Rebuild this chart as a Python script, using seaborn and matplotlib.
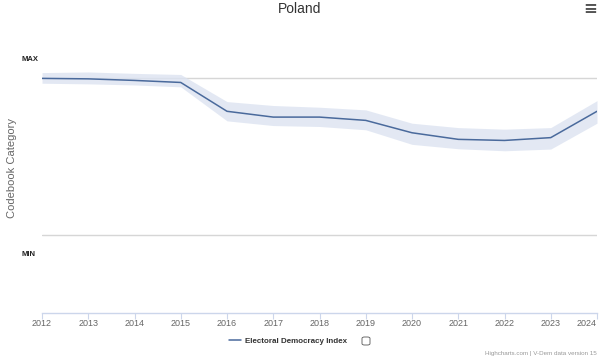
import matplotlib
matplotlib.use("Agg")
import matplotlib.pyplot as plt
import matplotlib.transforms as mtransforms
import seaborn as sns
import pandas as pd
from matplotlib.patches import FancyBboxPatch

years = [2012, 2013, 2014, 2015, 2016, 2017, 2018, 2019, 2020, 2021, 2022, 2023, 2024]
edi = [0.997, 0.994, 0.984, 0.971, 0.787, 0.750, 0.750, 0.729, 0.650, 0.608, 0.601, 0.619, 0.787]
edi_upper = [1.034, 1.038, 1.029, 1.022, 0.849, 0.824, 0.813, 0.796, 0.711, 0.683, 0.673, 0.683, 0.855]
edi_lower = [0.966, 0.962, 0.955, 0.943, 0.726, 0.696, 0.690, 0.669, 0.576, 0.548, 0.535, 0.546, 0.711]
series_name = "Electoral Democracy Index"
title = "Poland"
y_label = "Codebook Category"
y_marks = [1.0, 0.0]
y_mark_labels = ["MAX", "MIN"]
credits = "Highcharts.com | V-Dem data version 15"

df = pd.DataFrame({"year": years, "value": edi, "upper": edi_upper, "lower": edi_lower})

sns.set_theme(style="white")
plt.rcParams["font.family"] = ["Liberation Sans", "DejaVu Sans"]

LINE = "#4a6a9c"
BAND = "#dce3f1"

fig = plt.figure(figsize=(6.0, 3.58), dpi=100)
ax = fig.add_axes([0.07, 0.1257, 0.925, 0.788])

for v in y_marks:
    ax.axhline(v, color="#d6d6d6", lw=1.0, zorder=1)

ax.fill_between(df["year"], df["lower"], df["upper"], color=BAND, alpha=0.8, lw=0, zorder=2)
sns.lineplot(data=df, x="year", y="value", ax=ax, color=LINE, lw=1.1, label=series_name, zorder=3)

ax.set_xlim(2012, 2024)
ax.set_ylim(-0.5, 1.3)
ax.set_xticks(years)
ax.set_xticklabels([str(y) for y in years], fontsize=6.5, color="#666666")
ax.get_xticklabels()[-1].set_ha("right")
ax.set_yticks([])
ax.set_xlabel("")
ax.set_ylabel("")
for s in ["top", "right", "left"]:
    ax.spines[s].set_visible(False)
ax.spines["bottom"].set_color("#ccd6eb")
ax.spines["bottom"].set_linewidth(1.0)
ax.tick_params(axis="x", length=4, width=0.8, color="#ccd6eb", pad=0.5, bottom=True)

# category labels
trans = mtransforms.blended_transform_factory(fig.transFigure, ax.transData)
ax.text(22 / 600, 1.115, y_mark_labels[0], transform=trans, fontsize=5.5, fontweight="bold",
        color="#222222", ha="left", va="center")
ax.text(22 / 600, -0.127, y_mark_labels[1], transform=trans, fontsize=5.5, fontweight="bold",
        color="#222222", ha="left", va="center")

fig.text(12 / 600, 1 - 168 / 358, y_label, rotation=90, fontsize=8, color="#666666",
         ha="center", va="center")
fig.text(0.5, 1 - 9 / 358, title, fontsize=10, color="#333333", ha="center", va="center")
fig.text(590 / 600, 1 - 9 / 358, "\u2261", fontsize=12, color="#555555", ha="center",
         va="center", family=["DejaVu Sans"], fontweight="bold")
fig.text(597 / 600, 1 - 353 / 358, credits, fontsize=4.5, color="#999999", ha="right", va="center")

leg = ax.legend(loc="center", bbox_to_anchor=(288 / 600, 1 - 341 / 358),
                bbox_transform=fig.transFigure, frameon=False, fontsize=5.8,
                handlelength=1.5, handletextpad=0.4, borderpad=0)
for t in leg.get_texts():
    t.set_fontweight("bold")
    t.set_color("#333333")

box = FancyBboxPatch((362 / 600, 1 - 345 / 358), 8 / 600, 8 / 358,
                     boxstyle="round,pad=0,rounding_size=0.004", transform=fig.transFigure,
                     fill=False, edgecolor="#555555", lw=0.6)
fig.patches.append(box)

fig.savefig("out.png", dpi=100)
